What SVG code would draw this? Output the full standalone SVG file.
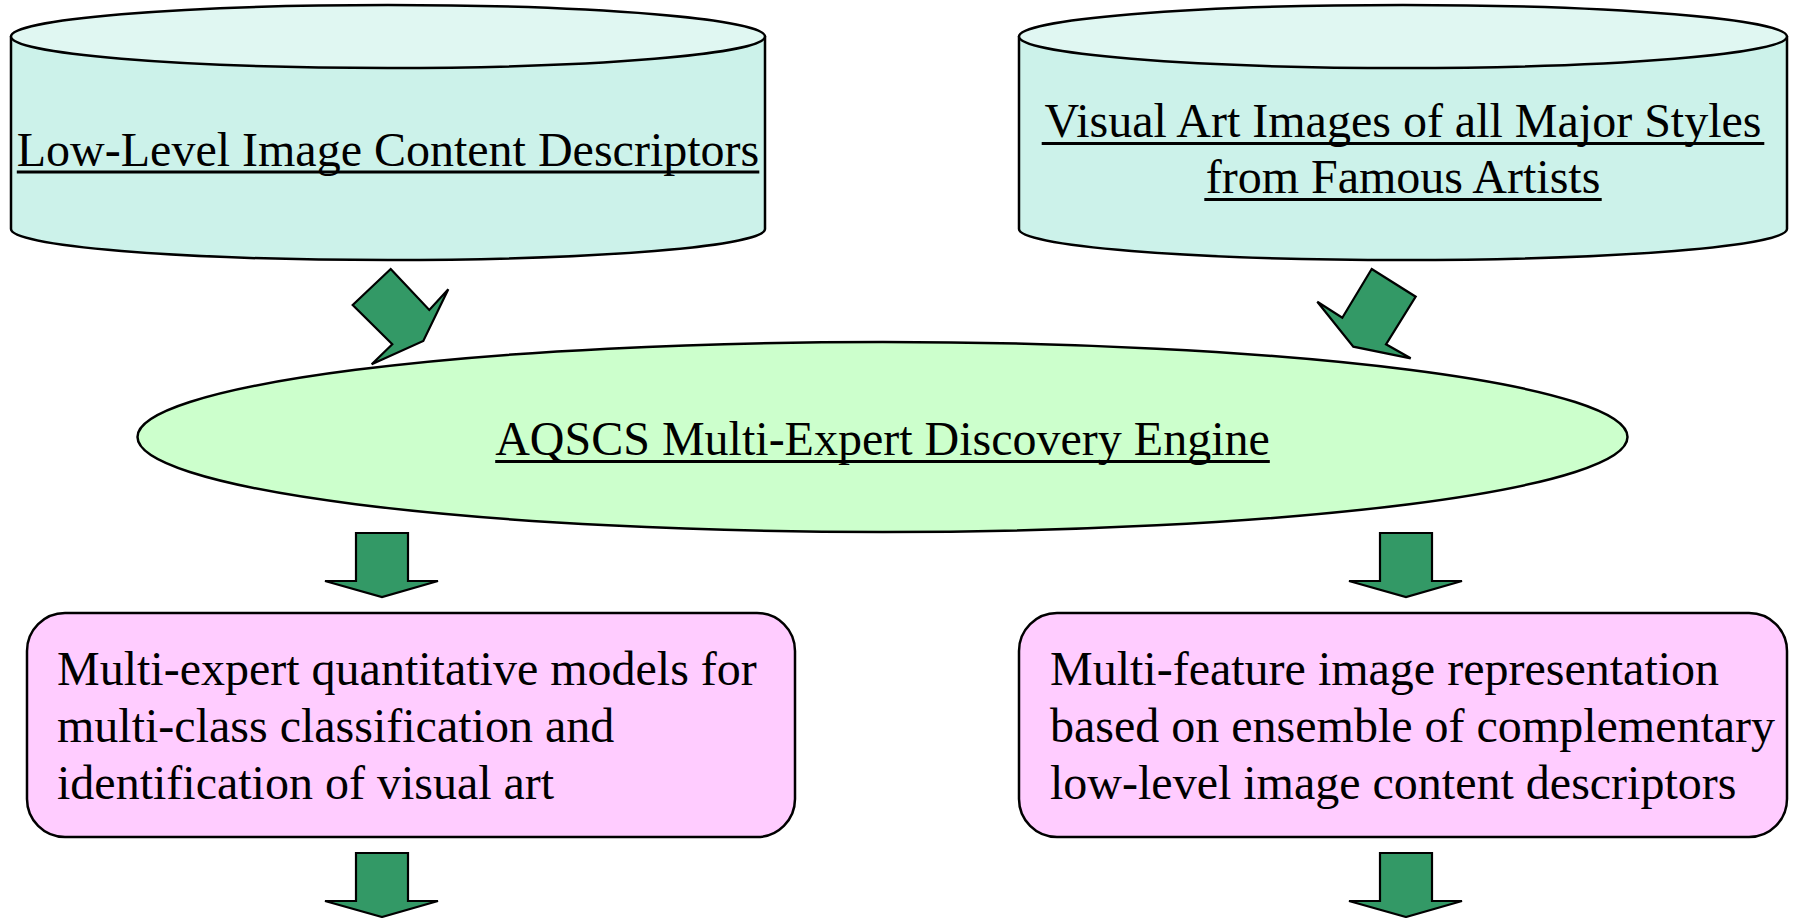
<svg xmlns="http://www.w3.org/2000/svg" width="1794" height="918" viewBox="0 0 1794 918">
  <style>
    .ol { stroke: #000; stroke-width: 2.5; stroke-linejoin: round; }
    .cyl-body { fill: #CCF2EA; }
    .cyl-top { fill: #E0F7F2; }
    .engine { fill: #CCFFCC; }
    .box { fill: #FFCCFF; }
    .arrow { fill: #339966; stroke: #000; stroke-width: 2.2; stroke-linejoin: miter; }
    .t { font-family: "Liberation Serif", "Times New Roman", serif; font-size: 48px; fill: #000; }
    .ul { stroke: #000; stroke-width: 3; }
  </style>
  <defs>
    <!-- block arrow pointing straight down, origin at shaft top-left -->
    <polygon id="downArrow" points="0,0 52,0 52,48 82,48 26,64 -31,48 0,48"/>
  </defs>

  <rect width="1794" height="918" fill="#FFFFFF"/>

  <!-- source store: descriptors -->
  <g id="descriptors">
    <path class="ol cyl-body" d="M11,36.5 L11,229 A377,31 0 0 0 765,229 L765,36.5 Z"/>
    <ellipse class="ol cyl-top" cx="388" cy="36.5" rx="377" ry="31.5"/>
    <text class="t" x="388" y="166" text-anchor="middle">Low-Level Image Content Descriptors</text>
    <line class="ul" x1="16.8" y1="172" x2="759.3" y2="172"/>
  </g>

  <!-- source store: images -->
  <g id="images">
    <path class="ol cyl-body" d="M1019,36.5 L1019,229 A384,31 0 0 0 1787,229 L1787,36.5 Z"/>
    <ellipse class="ol cyl-top" cx="1403" cy="36.5" rx="384" ry="31.5"/>
    <text class="t" x="1403" y="137" text-anchor="middle">Visual Art Images of all Major Styles</text>
    <line class="ul" x1="1041.7" y1="143.5" x2="1764.3" y2="143.5"/>
    <text class="t" x="1403" y="193" text-anchor="middle">from Famous Artists</text>
    <line class="ul" x1="1204.3" y1="199.5" x2="1601.7" y2="199.5"/>
  </g>

  <!-- central engine -->
  <g id="engine">
    <ellipse class="ol engine" cx="882.5" cy="437" rx="745" ry="95"/>
    <text class="t" x="882.5" y="455" text-anchor="middle">AQSCS Multi-Expert Discovery Engine</text>
    <line class="ul" x1="495.2" y1="461.5" x2="1269.8" y2="461.5"/>
  </g>

  <!-- outputs -->
  <g id="models">
    <rect class="ol box" x="27" y="613" width="768" height="224" rx="38" ry="38"/>
    <text class="t" x="57" y="685">Multi-expert quantitative models for</text>
    <text class="t" x="57" y="742">multi-class classification and</text>
    <text class="t" x="57" y="799">identification of visual art</text>
  </g>

  <g id="representation">
    <rect class="ol box" x="1019" y="613" width="768" height="224" rx="38" ry="38"/>
    <text class="t" x="1050" y="685">Multi-feature image representation</text>
    <text class="t" x="1050" y="742">based on ensemble of complementary</text>
    <text class="t" x="1050" y="799">low-level image content descriptors</text>
  </g>

  <!-- connectors -->
  <g id="connectors">
    <polygon class="arrow" points="390.7,269 429.3,310 448.3,289.3 423.3,341 371.7,364.3 392.3,344.3 352.7,305"/>
    <polygon class="arrow" points="1371.7,269 1415.7,296.7 1386,344.3 1410.7,358.3 1353.3,346.7 1317.3,301.7 1342.3,317.7"/>
    <use href="#downArrow" class="arrow" x="356" y="533"/>
    <use href="#downArrow" class="arrow" x="1380" y="533"/>
    <use href="#downArrow" class="arrow" x="356" y="853"/>
    <use href="#downArrow" class="arrow" x="1380" y="853"/>
  </g>
</svg>
